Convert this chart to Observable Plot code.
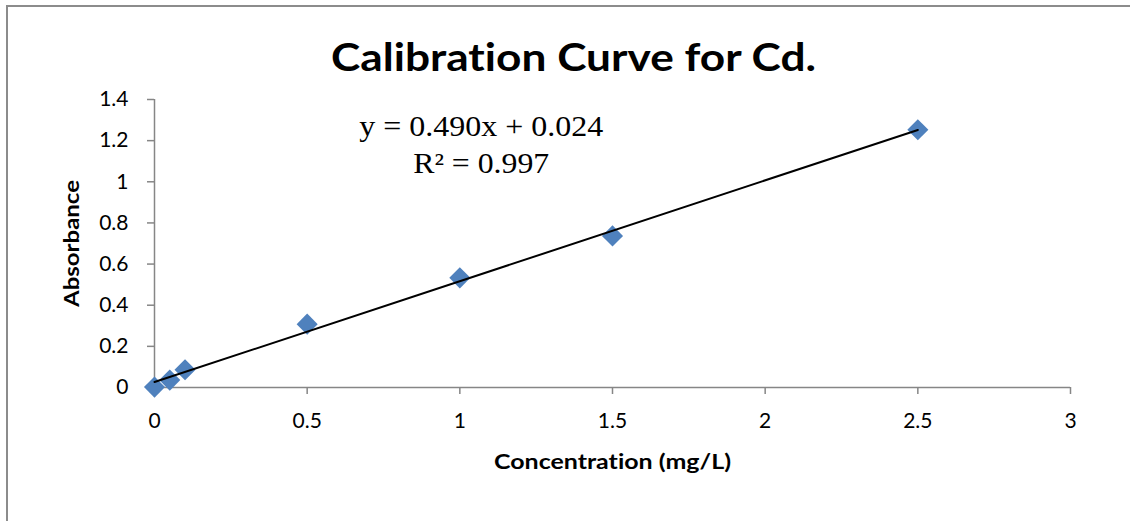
<!DOCTYPE html>
<html>
<head>
<meta charset="utf-8">
<script src="https://cdn.jsdelivr.net/npm/d3@7"></script>
<script src="https://cdn.jsdelivr.net/npm/@observablehq/plot@0.6"></script>
<style>
  html, body { margin: 0; padding: 0; background: #fff; overflow: hidden; }
  #wrap { position: relative; width: 1130px; height: 521px; }
  #border { position: absolute; left: 6px; top: 5px; width: 1200px; height: 600px;
            border: 2px solid #8c8c8c; pointer-events: none; box-sizing: border-box; }
  svg text { font-variant-ligatures: none; font-feature-settings: "liga" 0, "clig" 0; }
</style>
</head>
<body>
<div id="wrap"><div id="border"></div></div>
<script>
// Data
const concentration = [0, 0.05, 0.1, 0.5, 1, 1.5, 2.5];
const absorbance = [0.002, 0.036, 0.086, 0.308, 0.533, 0.737, 1.253];
const xTicks = [0, 0.5, 1, 1.5, 2, 2.5, 3];
const yTicks = [0, 0.2, 0.4, 0.6, 0.8, 1, 1.2, 1.4];
const titleText = "Calibration Curve for Cd.";
const equationLines = ["y = 0.490x + 0.024", "R² = 0.997"];
const xLabel = "Concentration (mg/L)";
const yLabel = "Absorbance";

const data = concentration.map((c, i) => ({c, a: absorbance[i]}));
const sans = "Lato, 'Open Sans', sans-serif";
const serif = "'Liberation Serif', 'DejaVu Serif', serif";

const chart = Plot.plot({
  width: 1130,
  height: 521,
  marginLeft: 154,
  marginRight: 60,
  marginTop: 99,
  marginBottom: 134,
  style: {fontFamily: sans, background: "transparent"},
  x: {domain: [0, 3]},
  y: {domain: [0, 1.4]},
  marks: [
    Plot.ruleY([0], {stroke: "#868686", strokeWidth: 1.5}),
    Plot.ruleX([0], {stroke: "#868686", strokeWidth: 1.5}),
    Plot.axisX({ticks: xTicks, tickFormat: d => String(d), tickSize: 7, tickPadding: 19,
                stroke: "#868686", strokeWidth: 1.5, fill: "#000", fontSize: 21, label: null}),
    Plot.axisY({ticks: yTicks, tickFormat: d => String(d), tickSize: 7, tickPadding: 19,
                stroke: "#868686", strokeWidth: 1.5, fill: "#000", fontSize: 21, label: null}),
    Plot.dot(data, {x: "c", y: "a", symbol: "diamond2", r: 9.5, fill: "#4f81bd", stroke: "none"}),
    Plot.linearRegressionY(data, {x: "c", y: "a", ci: 0, stroke: "#000", strokeWidth: 2}),
    Plot.text([titleText], {frameAnchor: "top", dx: -39, dy: -29, lineAnchor: "bottom",
               fontSize: 39, fontWeight: "bold", fill: "#000"}),
    Plot.text([equationLines[0]], {x: [1.07], y: [1.224], lineAnchor: "bottom", fontSize: 29,
               fontFamily: serif, fill: "#000"}),
    Plot.text([equationLines[1]], {x: [1.07], y: [1.044], lineAnchor: "bottom", fontSize: 29,
               fontFamily: serif, fill: "#000"}),
    Plot.text([xLabel], {frameAnchor: "bottom", dy: 81, lineAnchor: "bottom",
               fontSize: 21, fontWeight: "bold", fill: "#000"}),
    Plot.text([yLabel], {frameAnchor: "left", dx: -82, rotate: -90, textAnchor: "middle",
               lineAnchor: "middle", fontSize: 21, fontWeight: "bold", fill: "#000"})
  ]
});
// stretch selected texts horizontally to the widths measured in the reference
const widths = new Map([
  [titleText, 485], [equationLines[0], 244], [equationLines[1], 136],
  [xLabel, 237], [yLabel, 127]
]);
d3.select(chart).selectAll("text").each(function() {
  const t = this.textContent;
  if (widths.has(t)) {
    this.setAttribute("textLength", widths.get(t));
    this.setAttribute("lengthAdjust", "spacingAndGlyphs");
  }
});
chart.style.position = "absolute";
chart.style.left = "0px";
chart.style.top = "0px";
document.getElementById("wrap").insertBefore(chart, document.getElementById("border"));
</script>
</body>
</html>
